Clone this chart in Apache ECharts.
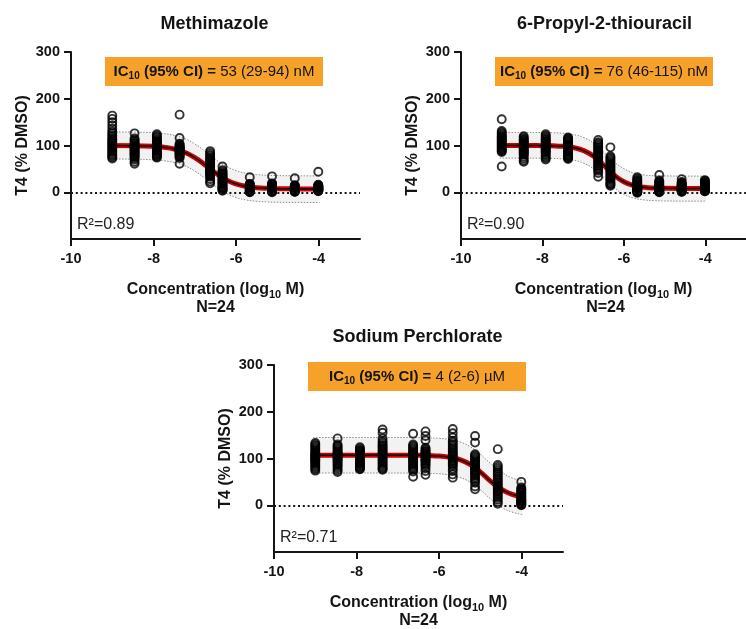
<!DOCTYPE html>
<html>
<head>
<meta charset="utf-8">
<script src="https://cdn.jsdelivr.net/npm/echarts@6/dist/echarts.min.js"></script>
<style>
html,body{margin:0;padding:0;background:#fff}
#main{width:746px;height:629px}
</style>
</head>
<body>
<div id="main"></div>
<script>
// log10 molar concentrations (same plate layout for the three chemicals)
var concLog = [-9, -8.46, -7.92, -7.37, -6.63, -6.33, -5.67, -5.13, -4.58, -4.01];

// T4 (% DMSO), 24 replicates per concentration
var mmiT4 = [
  [164,157,150,143,136,130,126,122,118,114,111,108,105,102,99,96,93,90,87,84,81,78,75,72],
  [126,115,112,109,106,104,102,100,98,96,94,92,90,88,86,84,82,80,78,76,73,70,65,61],
  [124,121,118,115,112,110,108,106,104,102,100,98,96,94,92,90,88,86,84,82,80,78,76,74],
  [166,116,104,102,100,98,96,95,94,93,92,91,90,89,88,87,86,84,82,80,78,76,73,61],
  [88,84,80,77,74,71,68,65,62,59,56,53,50,48,46,44,42,40,38,36,33,28,23,19],
  [55,47,44,41,39,37,35,33,31,29,27,25,23,21,19,17,15,13,11,9,8,6,5,3],
  [32,18,17,16,15,14,13,12,11,10,9,8,8,7,6,5,5,4,3,3,2,1,1,0],
  [34,19,18,17,16,15,14,13,12,11,10,9,9,8,7,6,5,5,4,3,2,2,1,0],
  [30,15,14,13,12,11,10,10,9,8,8,7,7,6,6,5,5,4,4,3,3,2,1,1],
  [44,16,15,14,13,12,12,11,10,10,9,9,8,8,7,7,6,6,5,5,4,4,3,2]
];
var ptuT4 = [
  [156,131,128,125,122,120,118,116,114,112,110,108,106,104,102,100,98,96,94,92,90,88,86,55],
  [120,117,114,112,110,108,106,104,102,100,98,96,94,92,90,88,86,84,82,80,76,72,68,65],
  [124,121,118,115,113,111,109,107,105,103,101,99,97,95,93,91,89,87,85,82,79,76,73,70],
  [117,115,113,111,109,107,105,103,101,99,97,95,93,91,89,87,85,83,81,79,77,75,73,71],
  [112,107,104,101,98,95,92,89,86,83,80,77,74,71,68,65,62,59,56,53,50,46,41,33],
  [96,77,74,71,68,65,62,59,56,53,50,47,44,41,38,35,32,29,26,23,20,18,16,14],
  [32,29,26,24,22,20,18,16,14,13,12,11,10,9,8,7,6,5,4,3,2,1,0,-1],
  [37,25,23,21,19,17,15,14,13,12,11,10,9,8,7,6,5,4,4,3,2,1,1,0],
  [28,22,20,18,17,16,15,14,13,12,11,10,9,8,7,6,6,5,4,3,3,2,1,1],
  [26,24,22,20,18,17,16,15,14,13,12,11,10,9,8,7,7,6,5,5,4,3,2,2]
];
var napT4 = [
  [133,130,127,124,121,118,115,112,110,108,106,104,102,100,98,96,94,92,89,86,83,80,77,74],
  [143,130,127,124,121,118,115,113,111,109,107,105,103,101,99,97,95,92,89,86,83,79,75,71],
  [124,121,118,116,114,112,110,108,106,104,102,100,98,96,94,92,90,88,86,84,82,80,78,77],
  [162,155,143,137,133,129,126,123,120,117,114,111,108,105,102,99,96,93,90,87,84,81,78,76],
  [153,130,127,124,121,118,115,112,110,108,106,104,102,100,97,94,91,88,85,82,79,76,72,61],
  [158,148,139,123,120,117,115,113,111,109,107,105,103,101,99,97,95,93,90,87,84,79,73,65],
  [163,154,145,138,134,130,126,122,118,114,111,108,105,102,99,96,93,90,87,84,78,73,66,59],
  [148,134,109,106,103,100,97,94,91,88,85,82,79,76,73,70,67,64,60,56,52,48,40,34],
  [120,86,82,78,74,70,66,62,58,54,50,46,42,39,36,33,30,27,24,20,16,12,7,3],
  [50,38,35,33,31,29,27,25,23,21,19,17,15,13,11,10,9,8,6,5,4,2,1,0]
];

// fitted curves and prediction bands
var fitX12 = [-9.05,-8.5,-8.0,-7.75,-7.5,-7.25,-7.0,-6.75,-6.5,-6.25,-6.0,-5.75,-5.5,-5.25,-5.0,-4.5,-3.98];
var mmiFit   = [100,99.7,98.3,96.4,92.6,85.7,74.2,58.4,41.3,27.1,17.7,12.4,9.6,8.3,7.6,7.2,7.0];
var mmiUpper = [129,128.7,127.3,125.4,121.6,114.7,103.2,87.4,70.3,56.1,46.2,40.6,37.7,36.4,35.7,35.2,35];
var mmiLower = [71,70.7,69.3,67.4,63.6,56.7,45.2,29.4,12.3,-1.9,-11.3,-16.6,-19.4,-20.7,-21.4,-21.8,-22];
var ptuFit   = [100,100,99.7,99.3,98.2,95.6,89.5,77.4,58.3,37.6,22.5,14.3,10.6,9.0,8.4,8.05,8.0];
var ptuUpper = [128,128,127.7,127.3,126.2,123.6,117.5,105.4,86.3,65.6,50.5,41,37,35.5,35,34.6,34.5];
var ptuLower = [73,73,72.7,72.3,71.2,68.6,62.5,50.4,31.3,10.6,-4.5,-12.7,-16.4,-18,-18.6,-19,-19];

var fitX3    = [-9.05,-8.5,-8.0,-7.5,-7.0,-6.5,-6.25,-6.0,-5.75,-5.5,-5.25,-5.0,-4.75,-4.5,-4.25,-3.98];
var napFit   = [107,107,107,107,106.9,106.7,106.2,105.2,102.7,97.5,87.3,70.8,51,34.3,23.8,18.2];
var napUpper = [145,145,145,145,144.9,144.7,144.2,143.2,140.7,135.5,125.3,108.8,89,72.3,59,53];
var napLower = [69,69,69,69,68.9,68.7,68.2,67.2,64.7,59.5,49.3,32.8,13,-3.7,-14.2,-20];

var xTicks = [-10, -8, -6, -4];
var yTicks = [0, 100, 200, 300];

var FONT = '"Liberation Sans", Arial, Helvetica, sans-serif';
var INK = '#141414';

var panels = [
  {name: 'Methimazole', ic: '53 (29-94) nM', r2: '0.89', t4: mmiT4, fx: fitX12, fit: mmiFit, up: mmiUpper, lo: mmiLower,
   left: 71, top: 52},
  {name: '6-Propyl-2-thiouracil', ic: '76 (46-115) nM', r2: '0.90', t4: ptuT4, fx: fitX12, fit: ptuFit, up: ptuUpper, lo: ptuLower,
   left: 461, top: 52},
  {name: 'Sodium Perchlorate', ic: '4 (2-6) \u00b5M', r2: '0.71', t4: napT4, fx: fitX3, fit: napFit, up: napUpper, lo: napLower,
   left: 274, top: 365}
];
var GW = 289, GH = 187;

var grids = [], xAxes = [], yAxes = [], series = [], graphics = [];

function pairs(xs, ys) {
  return xs.map(function (x, i) { return [x, ys[i]]; });
}

panels.forEach(function (p, k) {
  grids.push({left: p.left, top: p.top, width: GW, height: GH});

  xAxes.push({
    gridIndex: k, type: 'value', min: -10, max: -3, interval: 2,
    axisLine: {onZero: false, lineStyle: {color: INK, width: 2}},
    axisTick: {length: 7, lineStyle: {color: INK, width: 2}, customValues: xTicks},
    axisLabel: {customValues: xTicks, color: INK, fontSize: 14.5, fontWeight: 'bold', fontFamily: FONT, margin: 12},
    splitLine: {show: false},
    name: '{b|Concentration (log}{s|10}{b| M)}',
    nameLocation: 'middle', nameGap: 41, nameMoveOverlap: false,
    nameTextStyle: {
      rich: {
        b: {color: INK, fontSize: 16, fontWeight: 'bold', fontFamily: FONT, lineHeight: 20},
        s: {color: INK, fontSize: 11, fontWeight: 'bold', fontFamily: FONT, lineHeight: 11, verticalAlign: 'bottom'}
      }
    }
  });

  yAxes.push({
    gridIndex: k, type: 'value', min: -100, max: 300, interval: 100,
    axisLine: {onZero: false, lineStyle: {color: INK, width: 2}},
    axisTick: {length: 7, lineStyle: {color: INK, width: 2}, customValues: yTicks},
    axisLabel: {customValues: yTicks, color: INK, fontSize: 14.5, fontWeight: 'bold', fontFamily: FONT, margin: 11},
    splitLine: {show: false},
    name: 'T4 (% DMSO)', nameLocation: 'middle', nameGap: 40, nameMoveOverlap: false,
    nameTextStyle: {color: INK, fontSize: 16, fontWeight: 'bold', fontFamily: FONT}
  });

  // prediction band fill
  series.push({
    type: 'custom', xAxisIndex: k, yAxisIndex: k, silent: true, z: 1,
    data: [[p.fx[0], p.fit[0]]],
    renderItem: function (params, api) {
      var pts = [];
      for (var i = 0; i < p.fx.length; i++) pts.push(api.coord([p.fx[i], p.up[i]]));
      for (var j = p.fx.length - 1; j >= 0; j--) pts.push(api.coord([p.fx[j], p.lo[j]]));
      return {type: 'polygon', shape: {points: pts}, style: {fill: '#f2f2f2'}};
    }
  });
  // band edges (dotted)
  series.push({
    type: 'line', xAxisIndex: k, yAxisIndex: k, data: pairs(p.fx, p.up), smooth: true, showSymbol: false,
    silent: true, z: 2, lineStyle: {color: '#8c8c8c', width: 1, type: [1.5, 1.5]}
  });
  series.push({
    type: 'line', xAxisIndex: k, yAxisIndex: k, data: pairs(p.fx, p.lo), smooth: true, showSymbol: false,
    silent: true, z: 2, lineStyle: {color: '#8c8c8c', width: 1, type: [1.5, 1.5]},
    markLine: {
      silent: true, symbol: ['none', 'none'], label: {show: false},
      lineStyle: {color: INK, width: 2, type: [2, 2.8]},
      data: [{yAxis: 0}]
    }
  });
  // fitted curve: red with a black core
  series.push({
    type: 'line', xAxisIndex: k, yAxisIndex: k, data: pairs(p.fx, p.fit), smooth: true, showSymbol: false,
    silent: true, z: 3, lineStyle: {color: '#d00000', width: 5}
  });
  series.push({
    type: 'line', xAxisIndex: k, yAxisIndex: k, data: pairs(p.fx, p.fit), smooth: true, showSymbol: false,
    silent: true, z: 3, lineStyle: {color: '#000', width: 1.5}
  });
  // replicates
  var pts = [];
  concLog.forEach(function (x, i) {
    p.t4[i].forEach(function (v) { pts.push([x, v]); });
  });
  series.push({
    type: 'scatter', xAxisIndex: k, yAxisIndex: k, data: pts, symbol: 'circle', symbolSize: 8, z: 4,
    silent: true,
    itemStyle: {color: 'rgba(0,0,0,0)', borderColor: '#000', borderWidth: 1.9}
  });

  var cx = p.left + GW / 2;
  // title
  graphics.push({
    type: 'text', x: cx - 1, y: p.top - 28,
    style: {text: p.name, fill: INK, font: 'bold 18px ' + FONT, align: 'center', verticalAlign: 'middle'}
  });
  // IC10 box
  var bx = p.left + 34, by = p.top + (k === 2 ? -3 : 5);
  graphics.push({
    type: 'rect', shape: {x: bx, y: by, width: 218, height: 29},
    style: {fill: '#F6A12A'}
  });
  graphics.push({
    type: 'text', x: bx + 109, y: by + 14.5,
    style: {
      text: '{b|IC}{s|10}{b| (95% CI) =}{n| ' + p.ic + '}',
      align: 'center', verticalAlign: 'middle',
      rich: {
        b: {fill: INK, fontSize: 15, fontWeight: 'bold', fontFamily: FONT, lineHeight: 20},
        s: {fill: INK, fontSize: 10, fontWeight: 'bold', fontFamily: FONT, lineHeight: 10, verticalAlign: 'bottom'},
        n: {fill: INK, fontSize: 15, fontFamily: FONT, lineHeight: 20}
      }
    }
  });
  // R squared
  graphics.push({
    type: 'text', x: p.left + 6, y: p.top + GH - 14,
    style: {text: 'R\u00b2=' + p.r2, fill: '#222', font: '16px ' + FONT, align: 'left', verticalAlign: 'middle'}
  });
  // N
  graphics.push({
    type: 'text', x: cx, y: p.top + GH + 69,
    style: {text: 'N=24', fill: INK, font: 'bold 16px ' + FONT, align: 'center', verticalAlign: 'middle'}
  });
});

var myChart = echarts.init(document.getElementById('main'));
var option = {
  backgroundColor: '#fff',
  animation: false,
  textStyle: {fontFamily: FONT},
  grid: grids,
  xAxis: xAxes,
  yAxis: yAxes,
  series: series,
  graphic: graphics
};
myChart.setOption(option);
</script>
</body>
</html>
